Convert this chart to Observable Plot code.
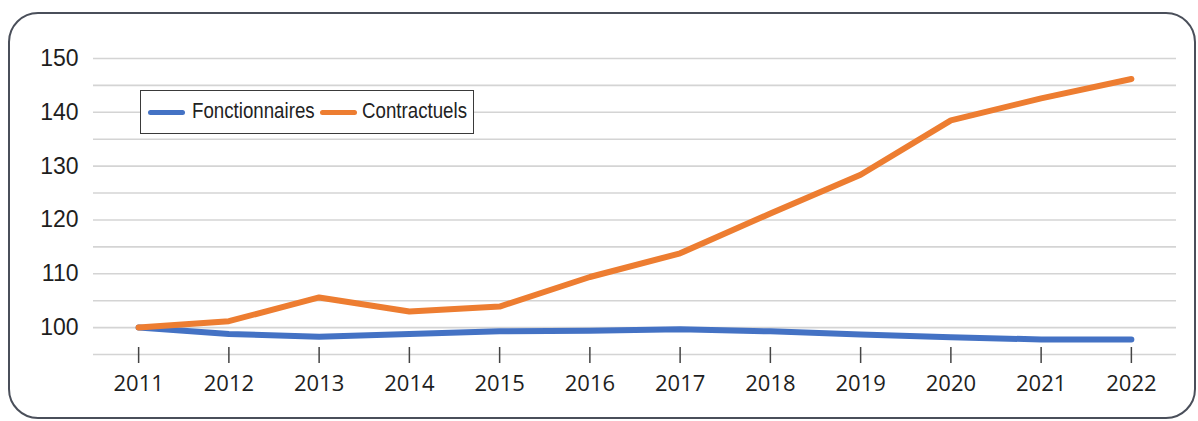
<!DOCTYPE html>
<html>
<head>
<meta charset="utf-8">
<script src="https://cdn.jsdelivr.net/npm/d3@7"></script>
<script src="https://cdn.jsdelivr.net/npm/@observablehq/plot@0.6"></script>
<style>
  html, body { margin: 0; padding: 0; background: #fff; }
  #wrap { position: relative; width: 1198px; height: 421px; overflow: hidden; }
  #frame { position: absolute; left: 8px; top: 12px; width: 1184px; height: 403px;
           border: 2.5px solid #4a4f5a; border-radius: 30px; background: #fff; }
  #chart { position: absolute; left: 0; top: 0; }
  #legend { position: absolute; left: 140px; top: 90px; width: 332px; height: 42px;
            border: 1.5px solid #3a3a3a; background: #fff;
            font-family: "Liberation Sans", Arial, sans-serif; font-size: 22px; color: #222; }
  .sw { position: absolute; top: 19px; width: 37px; height: 5px; border-radius: 3px; }
  .lt { position: absolute; top: 7px; white-space: nowrap; transform: scaleX(0.85); transform-origin: left center; line-height: 26px; }
</style>
</head>
<body>
<div id="wrap">
  <div id="frame"></div>
  <div id="chart"></div>
  <div id="legend"></div>
</div>
<script>
const years = [2011, 2012, 2013, 2014, 2015, 2016, 2017, 2018, 2019, 2020, 2021, 2022];
const fonctionnaires = [100, 98.8, 98.3, 98.8, 99.3, 99.4, 99.7, 99.3, 98.7, 98.2, 97.8, 97.8];
const contractuels = [100, 101.2, 105.6, 103.0, 103.9, 109.4, 113.8, 121.2, 128.4, 138.5, 142.6, 146.2];
const seriesNames = ["Fonctionnaires", "Contractuels"];
const seriesColors = ["#4472c4", "#ed7d31"];
const yTicks = [100, 110, 120, 130, 140, 150];
const gridValues = [95, 100, 105, 110, 115, 120, 125, 130, 135, 140, 145, 150];

const data = [];
years.forEach((y, i) => {
  data.push({year: y, value: fonctionnaires[i], series: seriesNames[0]});
  data.push({year: y, value: contractuels[i], series: seriesNames[1]});
});

const chart = Plot.plot({
  width: 1198,
  height: 421,
  marginLeft: 93,
  marginRight: 22,
  marginTop: 58,
  marginBottom: 67,
  style: {background: "transparent", overflow: "visible"},
  x: {domain: [2010.5, 2022.5]},
  y: {domain: [95, 150]},
  color: {domain: seriesNames, range: seriesColors},
  marks: [
    Plot.ruleY(gridValues, {stroke: "#d4d4d4", strokeWidth: 1.6}),
    Plot.axisY(yTicks, {tickSize: 0, tickPadding: 15, fontSize: 23, fontFamily: "Liberation Sans, Arial, sans-serif", fill: "#1e1e1e", label: null, letterSpacing: "-0.5px"}),
    Plot.axisX(years, {tickSize: 16, dy: -7, tickPadding: 12, tickFormat: d => String(d), fontSize: 22, fontFamily: "Open Sans, sans-serif", fill: "#1e1e1e", stroke: "#444", strokeWidth: 1.5, label: null}),
    Plot.line(data, {x: "year", y: "value", z: "series", stroke: "series", strokeWidth: 6, strokeLinecap: "round", strokeLinejoin: "round"})
  ]
});
document.getElementById("chart").appendChild(chart);

const legend = document.getElementById("legend");
const swLeft = [7, 179];
const txtLeft = [51, 221];
seriesNames.forEach((n, i) => {
  const sw = document.createElement("span");
  sw.className = "sw";
  sw.style.left = swLeft[i] + "px";
  sw.style.background = seriesColors[i];
  legend.appendChild(sw);
  const t = document.createElement("span");
  t.className = "lt";
  t.style.left = txtLeft[i] + "px";
  t.textContent = n;
  legend.appendChild(t);
});
</script>
</body>
</html>
